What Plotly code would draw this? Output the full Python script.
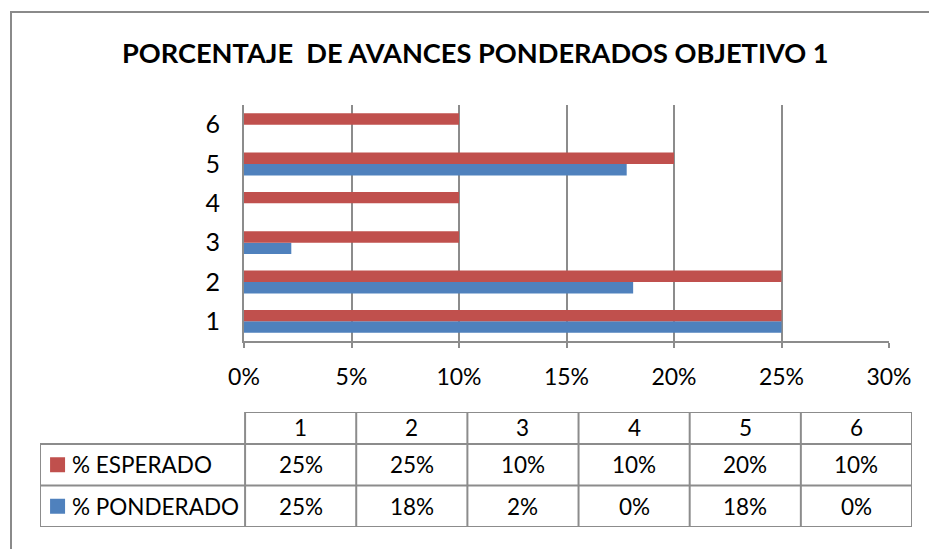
import plotly.graph_objects as go

# Data
categories = ["1", "2", "3", "4", "5", "6"]
esperado = [25, 25, 10, 10, 20, 10]
ponderado = [25, 18.1, 2.2, 0, 17.8, 0]
series_names = ["% ESPERADO", "% PONDERADO"]
x_ticks = [0, 5, 10, 15, 20, 25, 30]
x_tick_text = [f"{t}%" for t in x_ticks]
title_text = "PORCENTAJE  DE AVANCES PONDERADOS OBJETIVO 1"

RED = "#C0504D"
BLUE = "#4F81BD"
GRID = "#8C8C8C"
FONT = "Lato"
W, H = 929, 549


def px(x):
    return x / W


def py(y):
    return 1 - y / H


fig = go.Figure()

# Bars (first trace sits lower inside each group on a horizontal chart)
fig.add_bar(y=categories, x=ponderado, orientation="h", marker_color=BLUE,
            marker_line_width=0, name=series_names[1], showlegend=False)
fig.add_bar(y=categories, x=esperado, orientation="h", marker_color=RED,
            marker_line_width=0, name=series_names[0], showlegend=False)

# ---- data table under the chart, on its own axes ----
n = len(categories)
label_w = 1.845  # width of the series-name column, in column units
xl = -0.5 - label_w
row_edges = [0, 32, 73.5, 115]
row_mid = [(row_edges[i] + row_edges[i + 1]) / 2 for i in range(3)]

shapes = []
line = dict(color=GRID, width=2)
# horizontal rules
shapes.append(dict(type="line", xref="x2", yref="y2", x0=-0.5, x1=n - 0.5,
                   y0=row_edges[0], y1=row_edges[0], line=line))
for ye in row_edges[1:]:
    shapes.append(dict(type="line", xref="x2", yref="y2", x0=xl, x1=n - 0.5,
                       y0=ye, y1=ye, line=line))
# vertical rules
shapes.append(dict(type="line", xref="x2", yref="y2", x0=xl, x1=xl,
                   y0=row_edges[1], y1=row_edges[3], line=line))
for i in range(n + 1):
    shapes.append(dict(type="line", xref="x2", yref="y2", x0=i - 0.5, x1=i - 0.5,
                       y0=row_edges[0], y1=row_edges[3], line=line))

# outer chart frame
shapes.append(dict(type="rect", xref="paper", yref="paper",
                   x0=px(11), x1=px(960), y0=py(580), y1=py(12),
                   line=dict(color="#8A8A8A", width=2)))

annotations = []
tfont = dict(family=FONT, size=22.5, color="black")
for i, c in enumerate(categories):
    annotations.append(dict(xref="x2", yref="y2", x=i, y=row_mid[0] - 1, text=c,
                            showarrow=False, font=tfont))
for r, vals in enumerate([esperado, ponderado]):
    for i, v in enumerate(vals):
        annotations.append(dict(xref="x2", yref="y2", x=i, y=row_mid[r + 1],
                                text=f"{v:.0f}%", showarrow=False, font=tfont))
    annotations.append(dict(xref="x2", yref="y2", x=xl + 0.27, y=row_mid[r + 1],
                            text=series_names[r], showarrow=False, font=tfont,
                            xanchor="left"))

# legend keys inside the table
fig.add_scatter(x=[xl + 0.158, xl + 0.158], y=row_mid[1:], xaxis="x2", yaxis="y2",
                mode="markers", marker=dict(symbol="square", size=15,
                                            color=[RED, BLUE], line_width=0),
                showlegend=False, hoverinfo="skip")

# title
annotations.append(dict(xref="paper", yref="paper", x=px(476), y=py(53),
                        text=f"<b>{title_text}</b>", showarrow=False,
                        font=dict(family=FONT, size=27.2, color="black"),
                        xanchor="center", yanchor="middle"))

fig.update_layout(
    width=W, height=H,
    margin=dict(l=0, r=0, t=0, b=0, autoexpand=False),
    paper_bgcolor="white", plot_bgcolor="white",
    barmode="group", bargap=0.42, bargroupgap=0,
    font=dict(family=FONT, color="black"),
    xaxis=dict(domain=[px(244), px(889)], range=[0, 30], tickvals=x_ticks,
               ticktext=x_tick_text, showgrid=True, gridcolor=GRID, gridwidth=2,
               showline=True, linecolor=GRID, linewidth=2, zeroline=False,
               ticks="outside", ticklen=5, tickcolor=GRID, tickwidth=2,
               tickfont=dict(family=FONT, size=23), ticklabelstandoff=9,
               automargin=False, fixedrange=True),
    yaxis=dict(domain=[py(341), py(105)], type="category",
               showline=True, linecolor=GRID, linewidth=2, showgrid=False,
               zeroline=False, ticks="", tickfont=dict(family=FONT, size=25),
               ticklabelstandoff=17, automargin=False, fixedrange=True),
    xaxis2=dict(domain=[px(40), px(912)], range=[xl, n - 0.5], visible=False,
                anchor="y2", automargin=False, fixedrange=True),
    yaxis2=dict(domain=[py(527), py(412)], range=[row_edges[-1], row_edges[0]],
                visible=False, anchor="x2", automargin=False, fixedrange=True),
    shapes=shapes,
    annotations=annotations,
)

fig.write_html("out.html")
